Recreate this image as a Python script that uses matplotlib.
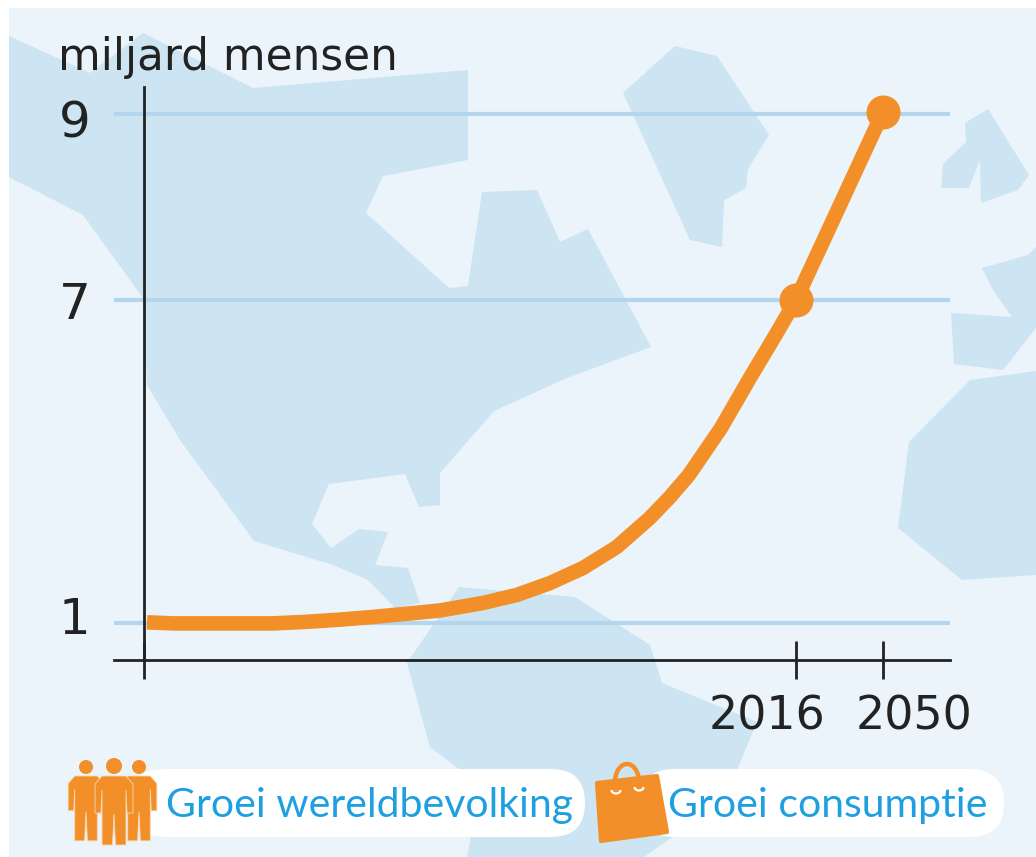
"""Wereldbevolking chart on a world map background"""

import numpy as np
import matplotlib
matplotlib.use("Agg")
import matplotlib.pyplot as plt
from matplotlib.patches import Arc, Circle, FancyBboxPatch, Polygon, Rectangle

BG_COLOR = "#EAF4FA"
LAND_COLOR = "#CDE4F2"
GRID_COLOR = "#B3D6EE"
ORANGE = "#F28F28"
DARK = "#222222"
BLUE = "#1EA0E0"

# curve
years = [1762.4, 1772.5, 1785.8, 1798.7, 1811.6, 1824.9, 1837.8, 1850.7, 1864, 1876.9, 1893.7, 1907,
         1919.9, 1932.8, 1946, 1958.9, 1966.8, 1974.2, 1986.7, 1998, 2007.8, 2016, 2030.5, 2050]
people = [1.01, 0.99, 0.99, 0.99, 0.99, 1.02, 1.06, 1.11, 1.17, 1.23, 1.37, 1.52,
          1.74, 2.02, 2.41, 2.95, 3.34, 3.75, 4.62, 5.55, 6.33, 7, 7.86, 9.02]
marker_years = [2016, 2050]
marker_people = [7, 9.02]

y_ticks = [1, 7, 9]
x_ticks = [2016, 2050]
y_title = "miljard mensen"
legend_labels = ["Groei wereldbevolking", "Groei consumptie"]

# map shapes, in picture pixels
north_america = [(9, 36), (90, 73), (143, 33), (253, 88), (468, 70), (468, 160), (383, 176),
                 (366, 213), (449, 288), (468, 286), (482, 192), (537, 190), (560, 242),
                 (588, 229), (651, 347), (567, 378), (494, 411), (440, 473), (440, 505),
                 (419, 507), (405, 474), (329, 484), (312, 524), (331, 548), (359, 529),
                 (388, 532), (375, 565), (408, 568), (420, 603), (395, 608), (368, 580),
                 (333, 565), (254, 541), (180, 440), (147, 385), (143, 298), (83, 215), (9, 177)]
south_america = [(459, 587), (575, 597), (650, 645), (662, 683), (757, 722), (737, 770),
                 (718, 805), (644, 857), (467, 857), (478, 800), (459, 769), (430, 747), (407, 663)]
greenland = [(675, 46), (717, 56), (769, 135), (748, 169), (746, 188), (724, 200),
             (722, 247), (690, 240), (623, 93)]
scandinavia = [(988, 109), (1029, 175), (1018, 190), (981, 203), (980, 160), (969, 188),
               (941, 188), (943, 164), (966, 142), (965, 123)]
europe = [(982, 268), (1028, 255), (1036, 247), (1036, 328), (1003, 370), (954, 364),
          (951, 313), (1012, 317), (993, 290)]
africa = [(970, 380), (1036, 371), (1036, 575), (962, 580), (898, 528), (909, 442)]


def forward(v):
    """y axis is not to scale: 1-7 is squeezed compared to 7-9"""
    return np.interp(v, [-1, 1, 7, 9, 11], [-107.66, 0, 323, 509, 695])


def inverse(p):
    return np.interp(p, [-107.66, 0, 323, 509, 695], [-1, 1, 7, 9, 11])


def draw_person(ax, cx, head_y, head_r, shoulder_y, scale):
    """Simple standing figure for the legend"""
    body = [(-12, 0), (12, 0), (19, 8), (19, 37), (13, 37), (12, 14), (12, 69), (1.5, 69), (0, 38),
            (-1.5, 69), (-12, 69), (-12, 14), (-13, 37), (-19, 37), (-19, 8)]
    pts = [(cx + x * scale, shoulder_y + y * scale) for x, y in body]
    ax.add_patch(Polygon(pts, closed=True, facecolor=ORANGE, edgecolor="#F7D9B5", lw=0.6, zorder=5))
    ax.add_patch(Circle((cx, head_y), head_r, facecolor=ORANGE, edgecolor="none", zorder=5))


fig = plt.figure(figsize=(10.36, 8.57), dpi=100, facecolor="white")

# background in pixel coordinates
bg = fig.add_axes([0, 0, 1, 1])
bg.set_xlim(0, 1036)
bg.set_ylim(857, 0)
bg.axis("off")
sea = Rectangle((9, 8), 1027, 849, facecolor=BG_COLOR, edgecolor="none", zorder=0)
bg.add_patch(sea)
for shape in [north_america, south_america, greenland, scandinavia, europe, africa]:
    bg.add_patch(Polygon(shape, closed=True, facecolor=LAND_COLOR, edgecolor="none", zorder=1))

# legend
for left, width in [(130, 455), (640, 364)]:
    bg.add_patch(FancyBboxPatch((left, 769), width, 68, boxstyle="round,pad=0,rounding_size=34",
                                facecolor="white", edgecolor="none", zorder=3))
draw_person(bg, 86, 767, 7, 776, 0.94)
draw_person(bg, 139, 767, 7, 776, 0.94)
draw_person(bg, 114, 766, 8, 776, 1.0)
bg.add_patch(Arc((627, 782), 24, 36, theta1=180, theta2=360, color=ORANGE, lw=3.2, zorder=4))
bg.add_patch(Polygon([(597, 783), (657, 776), (667, 832), (601, 841)], closed=True,
                     facecolor=ORANGE, edgecolor=ORANGE, lw=3, joinstyle="round", zorder=5))
for cx, cy in [(616, 790), (639, 787)]:
    bg.add_patch(Arc((cx, cy), 9, 7, theta1=0, theta2=180, color="white", lw=1.6, zorder=6))
bg.text(166, 817, legend_labels[0], color=BLUE, fontsize=29.5, family="Lato", va="baseline", zorder=6)
bg.text(668, 817, legend_labels[1], color=BLUE, fontsize=29.5, family="Lato", va="baseline", zorder=6)

# the chart itself
ax = fig.add_axes([114 / 1036, (857 - 660) / 857, (950 - 114) / 1036, (660 - 87) / 857])
ax.patch.set_alpha(0)
ax.set_yscale("function", functions=(forward, inverse))
ax.set_xlim(1749.5, 2076.2)
ax.set_ylim(0.31, 9.29)
start_year = 1761.2

for v in y_ticks:
    ax.axhline(v, color=GRID_COLOR, lw=3, zorder=1)

ax.plot(years, people, color=ORANGE, lw=10.5, solid_joinstyle="round", solid_capstyle="butt", zorder=2)
ax.plot(marker_years, marker_people, "o", color=ORANGE, ms=24.5, mew=0, zorder=2)

for side in ["top", "right"]:
    ax.spines[side].set_visible(False)
ax.spines["left"].set_position(("data", start_year))
ax.spines["left"].set_color(DARK)
ax.spines["left"].set_linewidth(2)
ax.spines["bottom"].set_color(DARK)
ax.spines["bottom"].set_linewidth(2)
ax.set_xticks([start_year] + x_ticks)
ax.set_xticklabels([])
ax.set_yticks([])
ax.minorticks_off()
ax.tick_params(axis="x", direction="inout", length=28, width=2, color=DARK)

for v, offset in zip(y_ticks, [2, -4, -7]):
    ax.annotate(str(v), xy=(0, v), xycoords=ax.get_yaxis_transform(), xytext=(-17, offset),
                textcoords="offset points", ha="right", va="center", fontsize=36, color=DARK)
for year, offset in zip(x_ticks, [-21, 22]):
    ax.annotate(str(year), xy=(year, 0), xycoords=ax.get_xaxis_transform(), xytext=(offset, -41),
                textcoords="offset points", ha="center", va="center", fontsize=33, color=DARK)
ax.annotate(y_title, xy=(0, 1), xycoords="axes fraction", xytext=(-40, 12), textcoords="offset points",
            ha="left", va="baseline", fontsize=31.5, color=DARK)

fig.savefig("out.png", dpi=100, facecolor="white")
